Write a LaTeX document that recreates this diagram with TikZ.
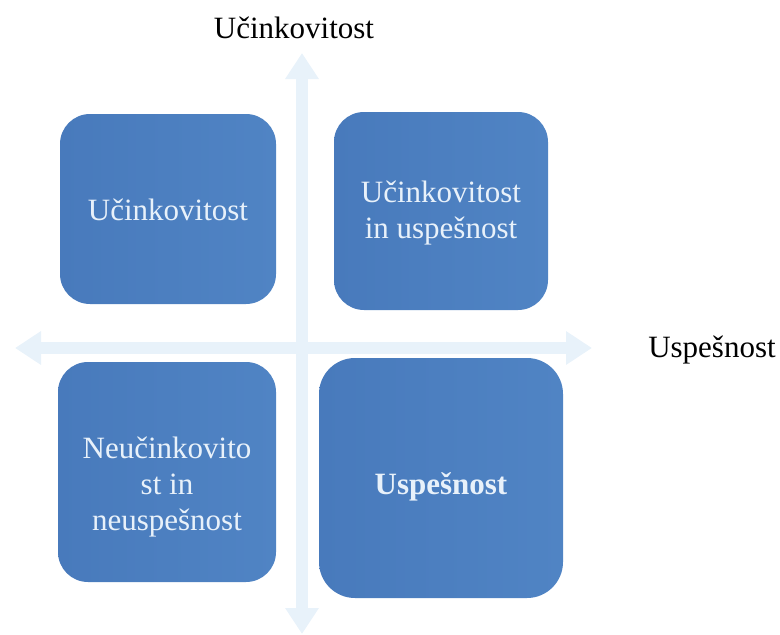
\documentclass[tikz,border=0pt]{standalone}
\usepackage{fontspec}
\setmainfont{Liberation Serif}
\usetikzlibrary{arrows.meta}
\definecolor{boxblueL}{RGB}{72,122,188}
\definecolor{boxblueR}{RGB}{80,132,196}
\definecolor{axispale}{RGB}{232,242,250}
\definecolor{boxtext}{RGB}{232,241,250}

\begin{document}
\begin{tikzpicture}[x=1pt,y=-1pt,
	quad/.style={rounded corners=30pt, left color=boxblueL, right color=boxblueR,
		inner sep=0pt},
	quadtext/.style={text=boxtext, align=center,
		font=\fontsize{31}{36}\selectfont},
	axis/.style={draw=axispale, line width=12pt,
		{Triangle[width=32pt,length=26pt]}-{Triangle[width=32pt,length=26pt]}},
	axislabel/.style={font=\fontsize{31}{36}\selectfont}]
	\useasboundingbox (0,0) rectangle (780,635);
	% axes
	\coordinate (vtop) at (302,53);
	\coordinate (vbot) at (302,634);
	\coordinate (hleft) at (15,348);
	\coordinate (hright) at (592,348);
	\draw[axis] (vbot) -- (vtop);
	\draw[axis] (hleft) -- (hright);
	% quadrants
	\node[quad, minimum width=216pt, minimum height=190pt] (eff) at (168,209) {};
	\node[quad, minimum width=214pt, minimum height=198pt] (both) at (441,211) {};
	\node[quad, minimum width=218pt, minimum height=220pt] (none) at (167,472) {};
	\node[quad, rounded corners=36pt, minimum width=244pt, minimum height=240pt] (succ) at (441,478) {};
	\node[quadtext] (efftext) at (168,210) {Učinkovitost};
	\node[quadtext] (bothtext) at (441,213) {Učinkovitost\\in uspešnost};
	\node[quadtext] (nonetext) at (167,487) {Neučinkovito\\st in\\neuspešnost};
	\node[quadtext] (succtext) at (441,487) {\textbf{Uspešnost}};
	% axis labels
	\node[axislabel] (ylab) at (294,28) {Učinkovitost};
	\node[axislabel] (xlab) at (712,350) {Uspešnost};
\end{tikzpicture}
\end{document}
